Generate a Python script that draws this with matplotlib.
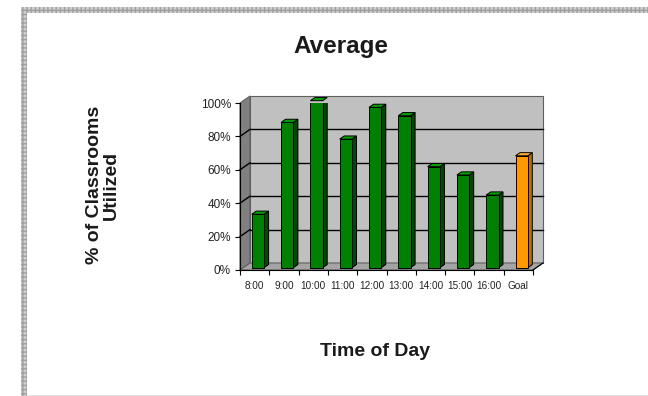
import matplotlib
matplotlib.use("Agg")
import matplotlib.pyplot as plt
from matplotlib.patches import Polygon, Rectangle
from matplotlib import font_manager

categories = ["8:00", "9:00", "10:00", "11:00", "12:00", "13:00", "14:00", "15:00", "16:00", "Goal"]
utilization = [0.32, 0.87, 1.00, 0.77, 0.96, 0.91, 0.605, 0.555, 0.435, 0.67]
y_ticks = [0.0, 0.2, 0.4, 0.6, 0.8, 1.0]
y_tick_labels = ["0%", "20%", "40%", "60%", "80%", "100%"]

W, H = 648, 396
fig = plt.figure(figsize=(W / 100, H / 100), dpi=100)
fig.patch.set_facecolor("white")

# patterned frame around the chart area
frame_kw = dict(transform=fig.transFigure, facecolor="#cfcfcf", edgecolor="#a0a0a0",
                hatch="++++", linewidth=0, zorder=0)
fig.patches.append(Rectangle((21 / W, 0), 6 / W, (H - 7) / H, **frame_kw))
fig.patches.append(Rectangle((21 / W, 1 - 13 / H), (W - 21) / W, 6 / H, **frame_kw))
fig.patches.append(Rectangle((27 / W, 0), (W - 27) / W, 1.5 / H, transform=fig.transFigure,
                             facecolor="#e4e4e4", linewidth=0, zorder=0))

ax = fig.add_axes([240 / W, 1 - 270 / H, 293 / W, 167 / H])
n = len(categories)
ax.set_xlim(0, n)
ax.set_ylim(0, 1)
ax.patch.set_visible(False)
for s in ax.spines.values():
    s.set_visible(False)

# depth of the 3-D box in data units
dx, dy = 10 / 29.3, 7 / 167

wall_edge = "#606060"
back = Polygon([(dx, dy), (n + dx, dy), (n + dx, 1 + dy), (dx, 1 + dy)],
               closed=True, facecolor="#c0c0c0", edgecolor=wall_edge, lw=0.8,
               clip_on=False, zorder=1)
side = Polygon([(0, 0), (dx, dy), (dx, 1 + dy), (0, 1)],
               closed=True, facecolor="#808080", edgecolor=wall_edge, lw=0.8,
               clip_on=False, zorder=1)
floor = Polygon([(0, 0), (n, 0), (n + dx, dy), (dx, dy)],
                closed=True, facecolor="#a4a4a4", edgecolor=wall_edge, lw=0.8,
                clip_on=False, zorder=1)
for p in (back, side, floor):
    ax.add_patch(p)

for yv in y_ticks[1:-1]:
    ax.plot([dx, n + dx], [yv + dy, yv + dy], color="black", lw=1.0, zorder=2, clip_on=False)
    ax.plot([0, dx], [yv, yv + dy], color="black", lw=1.0, zorder=2, clip_on=False)

# front axis lines
ax.plot([0, 0], [0, 1], color="black", lw=0.8, zorder=2, clip_on=False)
ax.plot([0, n], [0, 0], color="black", lw=0.8, zorder=6, clip_on=False)
ax.plot([n, n + dx], [0, dy], color="black", lw=0.8, zorder=6, clip_on=False)

# 3-D columns
bw = 12.3 / 29.3
f0 = 0.33
ox, oy = f0 * dx, f0 * dy
tdx, tdy = 0.45 * dx, 0.45 * dy
face = ["#008000"] * (n - 1) + ["#ff9900"]
side_c = ["#004a00"] * (n - 1) + ["#b86e00"]
top_c = ["#00a000"] * (n - 1) + ["#ffb030"]
centers = [i + 0.5 for i in range(n)]
lefts = [c - bw / 2 + ox for c in centers]
ax.bar(lefts, utilization, width=bw, bottom=oy, align="edge", color=face,
       edgecolor="black", linewidth=0.7, zorder=4)
for x0, v, sc, tc in zip(lefts, utilization, side_c, top_c):
    x1 = x0 + bw
    ax.add_patch(Polygon([(x1, oy), (x1 + tdx, oy + tdy), (x1 + tdx, oy + tdy + v), (x1, oy + v)],
                         closed=True, facecolor=sc, edgecolor="black", lw=0.7, zorder=3))
    ax.add_patch(Polygon([(x0, oy + v), (x1, oy + v), (x1 + tdx, oy + v + tdy), (x0 + tdx, oy + v + tdy)],
                         closed=True, facecolor=tc, edgecolor="black", lw=0.7, zorder=3,
                         clip_on=False))

# ticks
ax.set_yticks(y_ticks)
ax.set_yticklabels(y_tick_labels)
ax.set_xticks(range(n + 1))
ax.set_xticklabels([])
ax.set_xticks(centers, minor=True)
ax.set_xticklabels(categories, minor=True)
ax.tick_params(axis="y", direction="out", length=3.5, width=0.8, pad=3,
               labelsize=8.5, labelcolor="#222222")
ax.tick_params(axis="x", which="major", direction="out", length=3.5, width=0.8)
ax.tick_params(axis="x", which="minor", length=0, pad=8)

names = {f.name for f in font_manager.fontManager.ttflist}
narrow = "Liberation Sans Narrow" if "Liberation Sans Narrow" in names else "Liberation Sans"
for t in ax.get_yticklabels():
    t.set_family("Liberation Sans")
for t in ax.get_xticklabels(minor=True):
    t.set_family(narrow)
    t.set_fontsize(7.2)
    t.set_color("#222222")

fig.text(341 / W, 1 - 53 / H, "Average", ha="center", va="baseline",
         fontsize=17.5, fontweight="bold", family="Liberation Sans", color="#1a1a1a")
fig.text(375 / W, 1 - 356 / H, "Time of Day", ha="center", va="baseline",
         fontsize=14, fontweight="bold", family="Liberation Sans", color="#1a1a1a")
fig.text(103 / W, 1 - 185 / H, "% of Classrooms\nUtilized", ha="center", va="center",
         rotation=90, fontsize=14, fontweight="bold", family="Liberation Sans",
         color="#1a1a1a", linespacing=1.0, multialignment="center")

fig.savefig("out.png", dpi=100)
